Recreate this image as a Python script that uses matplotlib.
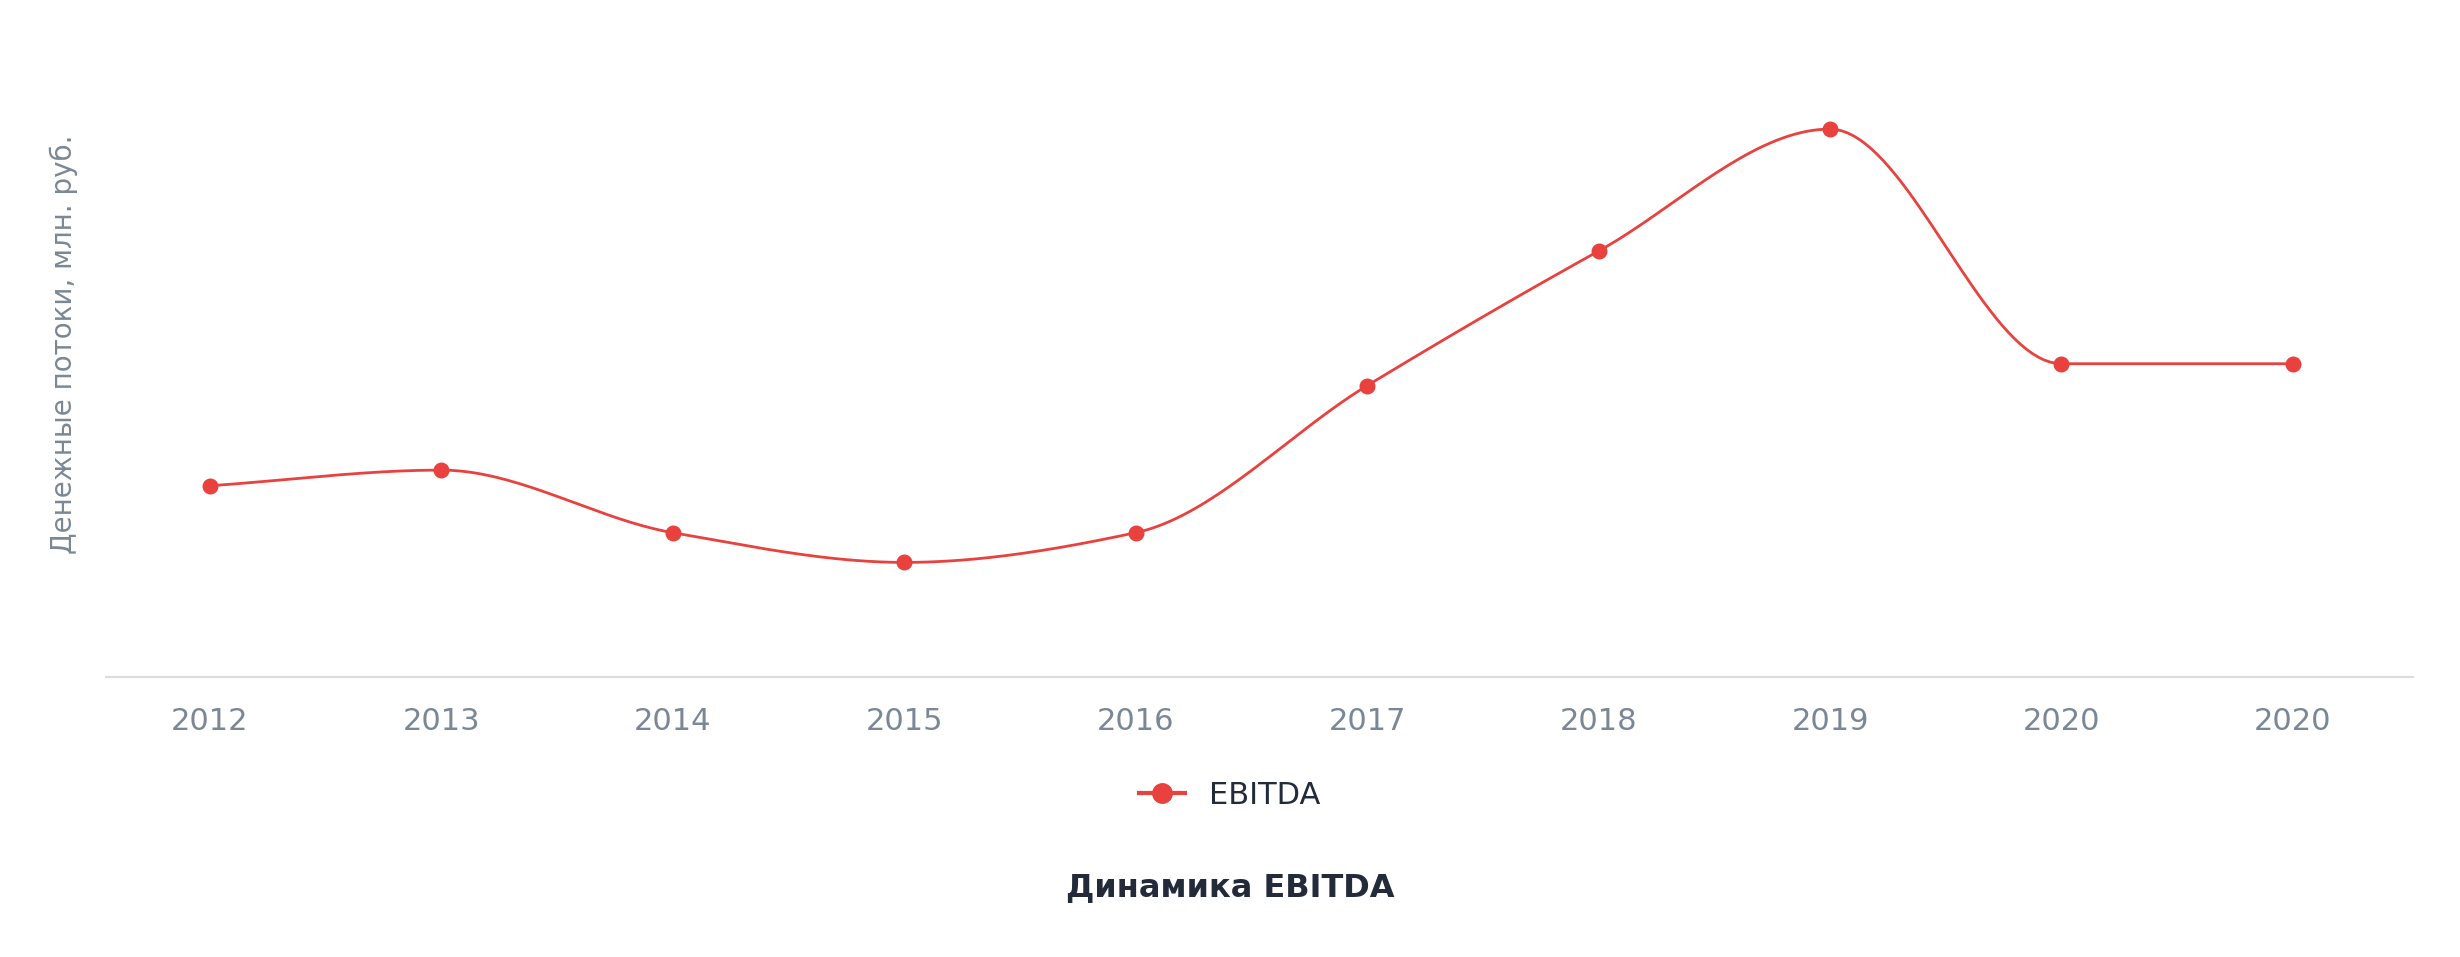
import matplotlib.pyplot as plt
import numpy as np
from matplotlib.lines import Line2D

years = ["2012", "2013", "2014", "2015", "2016", "2017", "2018", "2019", "2020", "2020"]
ebitda = [122, 132, 92, 73, 92, 186, 272, 350, 200, 200]

RED = "#e8413e"
GRAY = "#7b8794"
DARK = "#232b3b"


def monotone_curve(y, n=40):
    # Fritsch-Carlson monotone cubic, highcharts-like smoothing
    y = np.asarray(y, float)
    x = np.arange(len(y), dtype=float)
    d = np.diff(y)
    m = np.zeros_like(y)
    m[0], m[-1] = d[0], d[-1]
    for i in range(1, len(y) - 1):
        if d[i - 1] * d[i] <= 0:
            m[i] = 0
        else:
            m[i] = 2 / (1 / d[i - 1] + 1 / d[i])
    xs, ys = [], []
    for i in range(len(y) - 1):
        t = np.linspace(0, 1, n)
        h00 = 2 * t**3 - 3 * t**2 + 1
        h10 = t**3 - 2 * t**2 + t
        h01 = -2 * t**3 + 3 * t**2
        h11 = t**3 - t**2
        xs.append(x[i] + t)
        ys.append(h00 * y[i] + h10 * m[i] + h01 * y[i + 1] + h11 * m[i + 1])
    return np.concatenate(xs), np.concatenate(ys)


fig = plt.figure(figsize=(24.6, 9.57), dpi=100)
ax = fig.add_axes((0.043, 0.293, 0.938, 0.68))

cx, cy = monotone_curve(ebitda)
ax.plot(cx, cy, color=RED, lw=2)
ax.scatter(range(len(ebitda)), ebitda, color=RED, s=110, zorder=3)

ax.set_xlim(-0.45, 9.52)
ax.set_ylim(0, 416)
ax.set_xticks(range(len(years)))
ax.set_xticklabels(years, color=GRAY, fontsize=22)
ax.tick_params(axis="x", length=0, pad=22)
ax.set_yticks([])
for s in ["top", "right", "left"]:
    ax.spines[s].set_visible(False)
ax.spines["bottom"].set_color("#d8dce0")
ax.spines["bottom"].set_linewidth(1.5)

fig.text(0.026, 0.64, "Денежные потоки, млн. руб.", rotation=90, color=GRAY,
         fontsize=20, ha="center", va="center")

handle = Line2D([0], [0], color=RED, lw=3, marker="o", markersize=14)
fig.legend([handle], ["EBITDA"], loc="center", bbox_to_anchor=(0.5, 0.169),
           frameon=False, fontsize=22, labelcolor=DARK, handlelength=1.5)

fig.text(0.5, 0.073, "Динамика EBITDA", ha="center", va="center",
         fontsize=23, fontweight="bold", color=DARK)

fig.savefig("out.png", dpi=100, facecolor="white")
